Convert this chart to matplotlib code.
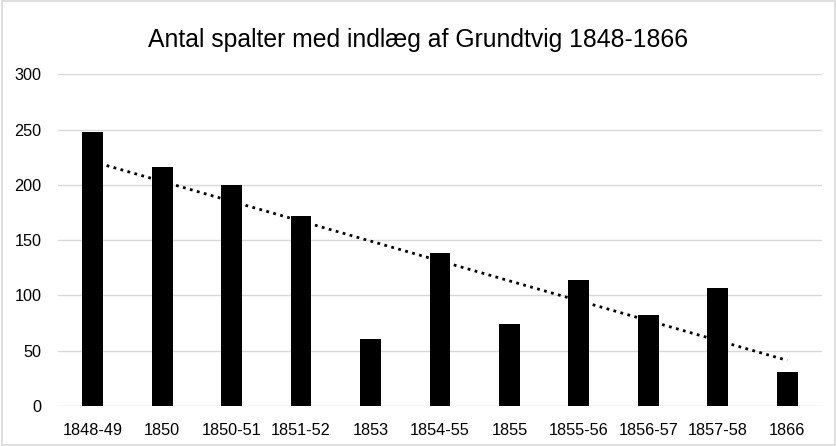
import matplotlib
matplotlib.use("Agg")
import matplotlib.pyplot as plt
import numpy as np
from matplotlib.patches import Rectangle

categories = ["1848-49", "1850", "1850-51", "1851-52", "1853", "1854-55",
              "1855", "1855-56", "1856-57", "1857-58", "1866"]
values = [248, 216, 200, 172, 61, 138, 74, 114, 82, 107, 31]
yticks = [0, 50, 100, 150, 200, 250, 300]
title = "Antal spalter med indlæg af Grundtvig 1848-1866"

plt.rcParams['font.family'] = ['Liberation Sans', 'DejaVu Sans']

fig = plt.figure(figsize=(8.37, 4.46), dpi=100)
ax = fig.add_axes([0.0693, 0.0897, 0.9127, 0.7437])

x = np.arange(len(categories))
ax.bar(x, values, width=0.30, color="black", zorder=3)

# linear trendline (least squares)
xs = x + 1
coef = np.polyfit(xs, values, 1)
trend = np.polyval(coef, xs)
ax.plot(x, trend, linestyle=(0, (1, 1.6)), color="black", linewidth=2.0, zorder=2)

ax.set_xlim(-0.5, len(categories) - 0.5)
ax.set_ylim(0, 300)
ax.set_yticks(yticks)
ax.set_xticks(x)
ax.set_xticklabels(categories)
ax.tick_params(axis='both', length=0, labelsize=11.7, colors="#000000")
ax.tick_params(axis='x', pad=12)
ax.tick_params(axis='y', pad=12)
ax.grid(axis='y', color="#d9d9d9", linewidth=1.0, zorder=0)
ax.set_axisbelow(True)
for s in ax.spines.values():
    s.set_visible(False)

fig.text(0.5, 1 - 40 / 446, title, ha='center', va='center', fontsize=17.8, color="black")

fig.patches.append(Rectangle((0.002, 0.003), 0.996, 0.994, transform=fig.transFigure,
                             fill=False, edgecolor="#d9d9d9", linewidth=1.2))

fig.savefig("out.png", dpi=100)
